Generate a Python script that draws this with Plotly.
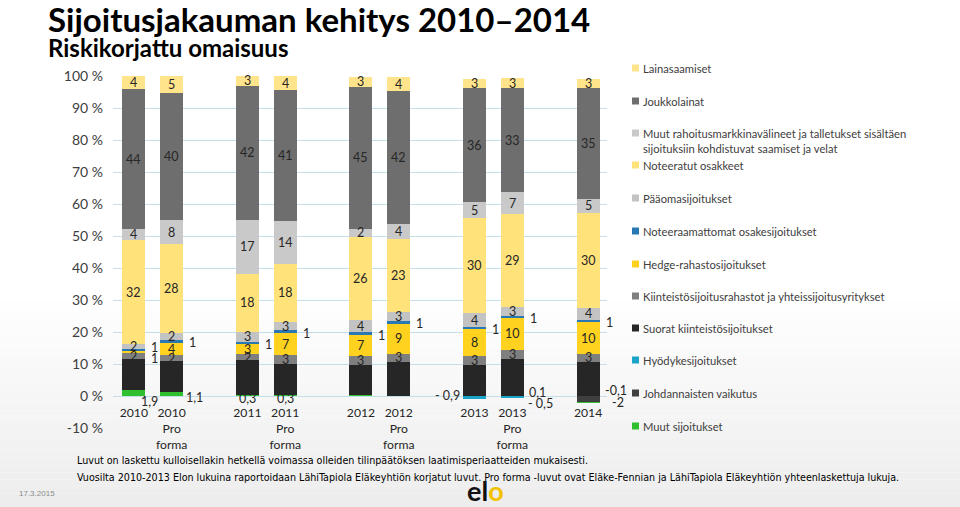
import plotly.graph_objects as go

# ---------------- data ----------------
bar_labels = ["2010", "2010<br>Pro<br>forma", "2011", "2011<br>Pro<br>forma",
              "2012", "2012<br>Pro<br>forma", "2013", "2013<br>Pro<br>forma", "2014"]
slot = [0, 1, 3, 4, 6, 7, 9, 10, 12]          # empty slots between the years

# stack order: bottom -> top
johdannaiset     = [0, 0, 0, 0, 0, 0, 0, 0, -2.0]
muut_sijoitukset = [1.9, 1.1, 0.3, 0.3, 0.2, 0, 0, 0.1, -0.1]
hyodyke          = [0, 0, 0, 0, 0, 0, -0.9, -0.5, 0]
suorat           = [9.6, 9.8, 10.8, 9.7, 9.6, 10.6, 9.8, 11.6, 10.6]
kiint_rahastot   = [1.9, 1.8, 2.1, 2.8, 2.6, 2.6, 2.8, 2.8, 2.6]
hedge            = [0.6, 3.9, 2.9, 6.9, 6.7, 9.4, 8.4, 9.8, 9.8]
noteeraamattomat = [0.7, 0.9, 0.9, 0.8, 0.8, 0.8, 0.7, 0.8, 0.9]
paaoma           = [1.6, 2.1, 3.0, 2.7, 3.7, 2.7, 4.1, 2.6, 3.6]
noteeratut       = [32.3, 27.8, 18.2, 18.0, 26.2, 23.1, 29.7, 29.2, 29.6]
muut_rahoitus    = [3.6, 7.6, 16.8, 13.6, 2.3, 4.4, 5.1, 6.8, 4.6]
joukkolainat     = [43.6, 39.6, 41.9, 40.8, 44.6, 41.8, 35.6, 32.6, 34.6]
lainasaamiset    = [4.2, 5.4, 3.1, 4.4, 3.1, 4.2, 2.8, 3.0, 2.9]

series = [
    ("Johdannaisten vaikutus", johdannaiset, "#3f3f3f"),
    ("Muut sijoitukset", muut_sijoitukset, "#2fbf2f"),
    ("Hyödykesijoitukset", hyodyke, "#1aa5c8"),
    ("Suorat kiinteistösijoitukset", suorat, "#262626"),
    ("Kiinteistösijoitusrahastot ja yhteissijoitusyritykset", kiint_rahastot, "#7f7f7f"),
    ("Hedge-rahastosijoitukset", hedge, "#ffd21f"),
    ("Noteeraamattomat osakesijoitukset", noteeraamattomat, "#2878b4"),
    ("Pääomasijoitukset", paaoma, "#c3c3c3"),
    ("Noteeratut osakkeet", noteeratut, "#ffe27a"),
    ("Muut rahoitusmarkkinavälineet ja talletukset sisältäen<br>sijoituksiin kohdistuvat saamiset ja velat", muut_rahoitus, "#c9c9c9"),
    ("Joukkolainat", joukkolainat, "#6e6e6e"),
    ("Lainasaamiset", lainasaamiset, "#ffe48c"),
]
# legend order, top -> bottom
legend_order = ["Lainasaamiset", "Joukkolainat", "Muut rahoitusmarkkinavälineet", "Noteeratut osakkeet",
                "Pääomasijoitukset", "Noteeraamattomat osakesijoitukset", "Hedge-rahastosijoitukset",
                "Kiinteistösijoitusrahastot", "Suorat kiinteistösijoitukset", "Hyödykesijoitukset",
                "Johdannaisten vaikutus", "Muut sijoitukset"]

y_ticks = list(range(-10, 101, 10))

# ---------------- geometry helpers (pixels -> paper) ----------------
W, H = 960, 507
L, R, T, B = 113, 607, 76, 428
def fx(p): return (p - L) / (R - L)
def fy(p): return (B - p) / (B - T)

BAR_W = 0.61
fig = go.Figure()
for name, vals, col in series:
    fig.add_trace(go.Bar(x=slot, y=vals, name=name, marker_color=col,
                         marker_line_width=0, width=BAR_W, showlegend=False,
                         hoverinfo="skip"))

# ---------------- data labels ----------------
lab_font = dict(family="Lato, Carlito, sans-serif", size=12.5, color="#262626")
decimal_series = {"Johdannaisten vaikutus", "Muut sijoitukset", "Hyödykesijoitukset"}
# outside label placement: (series, bar) -> (anchor, xshift px, yshift px, minus-space)
outside = {
    ("Hedge-rahastosijoitukset", 0): ("right", 4, -6, ""),
    ("Muut sijoitukset", 0): ("cmid", 16, -9, ""),
    ("Muut sijoitukset", 1): ("right", 1, -3, ""),
    ("Muut sijoitukset", 2): ("center", 0, -3, ""),
    ("Muut sijoitukset", 3): ("center", 0, -3, ""),
    ("Hyödykesijoitukset", 6): ("left", -1, 2, " "),
    ("Muut sijoitukset", 7): ("right", 3, 3, ""),
    ("Hyödykesijoitukset", 7): ("right", 2, -6.5, " "),
    ("Muut sijoitukset", 8): ("right", 3.5, 12.5, ""),
    ("Johdannaisten vaikutus", 8): ("right", 10.5, -3, ""),
}

pos_cum = [0.0] * len(slot)
neg_cum = [0.0] * len(slot)
for name, vals, col in series:
    for i, v in enumerate(vals):
        if v >= 0:
            lo = pos_cum[i]; pos_cum[i] += v; hi = pos_cum[i]
        else:
            hi = neg_cum[i]; neg_cum[i] += v; lo = neg_cum[i]
        if v == 0:
            continue
        mid = (lo + hi) / 2
        key = (name, i)
        if name in decimal_series:
            if key not in outside:
                continue
            anc, dx, dy, sp = outside[key]
            txt = f"{abs(v):.1f}".replace(".", ",")
            if txt.endswith(",0"):
                txt = txt[:-2]
            if v < 0:
                txt = "-" + sp + txt
        elif name.startswith("Noteeraamattomat") or key in outside:
            anc, dx, dy, sp = outside.get(key, ("right", 4, -1.5, ""))
            if name.startswith("Noteeraamattomat") and i == 0:
                dy = 3
            txt = f"{v:.0f}"
        else:
            fig.add_annotation(x=slot[i], y=mid, xref="x", yref="y", text=f"{v:.0f}",
                               showarrow=False, font=lab_font, xanchor="center", yanchor="middle")
            continue
        if anc == "right":
            xa, xpos = "left", slot[i] + BAR_W / 2
        elif anc == "left":
            xa, xpos = "right", slot[i] - BAR_W / 2
        else:
            xa, xpos = "center", slot[i]
        fig.add_annotation(x=xpos, y=mid, xref="x", yref="y", text=txt, showarrow=False,
                           font=lab_font, xanchor=xa, yanchor="middle", xshift=dx, yshift=dy)

# ---------------- legend (drawn manually to match layout) ----------------
leg_y = [68, 101, 133, 165, 198, 231, 264, 296, 328, 360, 393, 426]
for key, yc in zip(legend_order, leg_y):
    name, vals, col = next(s for s in series if s[0].startswith(key))
    fig.add_shape(type="rect", xref="paper", yref="paper",
                  x0=fx(632), x1=fx(639), y0=fy(yc + 3.5), y1=fy(yc - 3.5),
                  fillcolor=col, line_width=0)
    fig.add_annotation(xref="paper", yref="paper", x=fx(641), y=fy(yc - 8),
                       text=name, showarrow=False, xanchor="left", yanchor="top",
                       align="left",
                       font=dict(family="Lato, sans-serif", size=11.2, color="#404040"))

# ---------------- titles & footer ----------------
fig.add_annotation(xref="paper", yref="paper", x=fx(46), y=fy(19), xanchor="left", yanchor="middle",
                   text="<b>Sijoitusjakauman kehitys 2010–2014</b>", showarrow=False,
                   font=dict(family="Lato, sans-serif", size=33, color="#000000"))
fig.add_annotation(xref="paper", yref="paper", x=fx(46), y=fy(48), xanchor="left", yanchor="middle",
                   text="<b>Riskikorjattu omaisuus</b>", showarrow=False,
                   font=dict(family="Lato, sans-serif", size=24, color="#000000"))
foot_font = dict(family="Liberation Sans Narrow, DejaVu Sans Condensed, sans-serif", size=10.65, color="#000000")
fig.add_annotation(xref="paper", yref="paper", x=fx(75), y=fy(460), xanchor="left", yanchor="middle",
                   text="Luvut on laskettu kulloisellakin hetkellä voimassa olleiden tilinpäätöksen laatimisperiaatteiden mukaisesti.",
                   showarrow=False, font=foot_font)
fig.add_annotation(xref="paper", yref="paper", x=fx(75), y=fy(477), xanchor="left", yanchor="middle",
                   text="Vuosilta 2010-2013 Elon lukuina raportoidaan LähiTapiola Eläkeyhtiön korjatut luvut. Pro forma -luvut ovat Eläke-Fennian ja LähiTapiola Eläkeyhtiön yhteenlaskettuja lukuja.",
                   showarrow=False, font=foot_font)
fig.add_annotation(xref="paper", yref="paper", x=fx(17), y=fy(493), xanchor="left", yanchor="middle",
                   text="17.3.2015", showarrow=False,
                   font=dict(family="Liberation Sans Narrow, sans-serif", size=8, color="#8c8c8c"))
fig.add_annotation(xref="paper", yref="paper", x=fx(485), y=fy(490), xanchor="center", yanchor="middle",
                   text="<b>el<span style='color:#f2c200'>o</span></b>", showarrow=False,
                   font=dict(family="Lato, sans-serif", size=27, color="#111111"))

# background gradient towards the bottom
n = 30
for k in range(n):
    y0p = 300 + k * (207 / n)
    y1p = 300 + (k + 1) * (207 / n)
    g = int(255 - 18 * (k + 0.5) / n)
    fig.add_shape(type="rect", xref="paper", yref="paper", layer="below",
                  x0=fx(0), x1=fx(960), y0=fy(y1p), y1=fy(y0p),
                  fillcolor=f"rgb({g},{g},{g})", line_width=0)

fig.update_layout(
    width=W, height=H, margin=dict(l=L, r=W - R, t=T, b=H - B),
    barmode="relative", bargap=0,
    paper_bgcolor="white", plot_bgcolor="rgba(0,0,0,0)",
    font=dict(family="Lato, sans-serif", color="#404040"),
    xaxis=dict(range=[-0.55, 12.5], tickvals=slot, ticktext=bar_labels,
               anchor="free", position=10 / 110, showgrid=False, zeroline=False,
               showline=False, ticks="", ticklabelstandoff=8,
               tickfont=dict(family="Lato, sans-serif", size=12.2, color="#262626")),
    yaxis=dict(range=[-10, 100], tickvals=y_ticks, ticktext=[f"{v} %" for v in y_ticks],
               showgrid=True, gridcolor="#c3dfe9", gridwidth=1, zeroline=False,
               ticks="", ticklabelstandoff=9,
               tickfont=dict(family="Lato, sans-serif", size=14, color="#404040")),
)

fig.write_html("out.html", config={"displayModeBar": False, "staticPlot": True},
               post_script="document.body.style.margin='0';document.body.style.overflow='hidden';")
